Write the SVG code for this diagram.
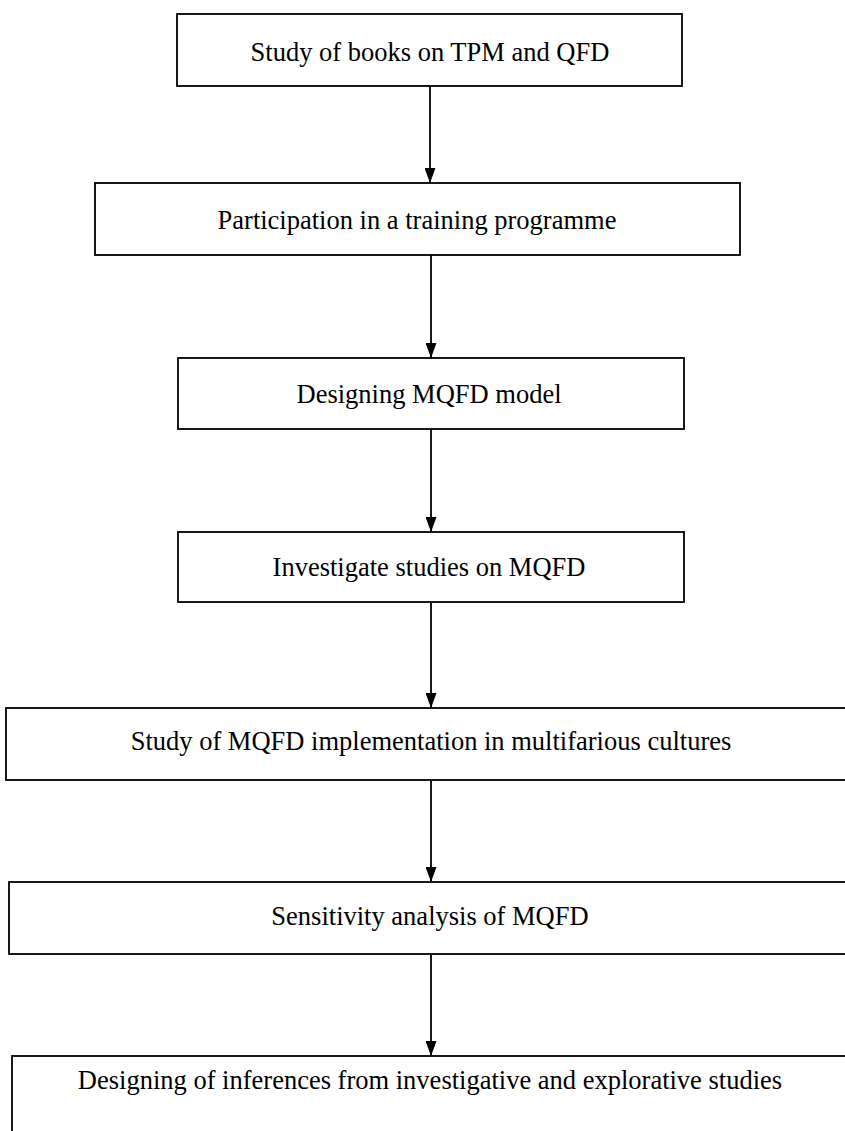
<svg xmlns="http://www.w3.org/2000/svg" width="845" height="1131" viewBox="0 0 845 1131">
<style>
.box{fill:#fff;stroke:#000;stroke-width:1.8}
.lbl{font-family:"Liberation Serif","Times New Roman",serif;font-size:26.5px;fill:#000;text-anchor:middle}
.conn{stroke:#000;stroke-width:1.8;fill:none;marker-end:url(#ah)}
</style>
<defs>
<marker id="ah" markerUnits="userSpaceOnUse" markerWidth="15" markerHeight="11" refX="15" refY="5.5" orient="auto" viewBox="0 0 15 11"><path d="M0,0 L15,5.5 L0,11 Z" fill="#000"/></marker>
</defs>
<rect width="845" height="1131" fill="#fff"/>
<g id="connectors">
<line class="conn" x1="430" y1="86" x2="430" y2="183"/>
<line class="conn" x1="431" y1="255" x2="431" y2="358"/>
<line class="conn" x1="431" y1="429" x2="431" y2="532"/>
<line class="conn" x1="431" y1="602" x2="431" y2="708"/>
<line class="conn" x1="431" y1="780" x2="431" y2="882"/>
<line class="conn" x1="431" y1="954" x2="431" y2="1056"/>
</g>
<g id="n1"><rect class="box" x="177" y="14" width="505" height="72"/><text class="lbl" x="430" y="61">Study of books on TPM and QFD</text></g>
<g id="n2"><rect class="box" x="95" y="183" width="645" height="72"/><text class="lbl" x="417" y="229">Participation in a training programme</text></g>
<g id="n3"><rect class="box" x="178" y="358" width="506" height="71"/><text class="lbl" x="429" y="403">Designing MQFD model</text></g>
<g id="n4"><rect class="box" x="178" y="532" width="506" height="70"/><text class="lbl" x="429" y="576">Investigate studies on MQFD</text></g>
<g id="n5"><rect class="box" x="6" y="708" width="850" height="72"/><text class="lbl" x="431" y="750">Study of MQFD implementation in multifarious cultures</text></g>
<g id="n6"><rect class="box" x="9" y="882" width="850" height="72"/><text class="lbl" x="430" y="925">Sensitivity analysis of MQFD</text></g>
<g id="n7"><rect class="box" x="12" y="1056" width="850" height="90"/><text class="lbl" x="430" y="1089">Designing of inferences from investigative and explorative studies</text></g>
</svg>
